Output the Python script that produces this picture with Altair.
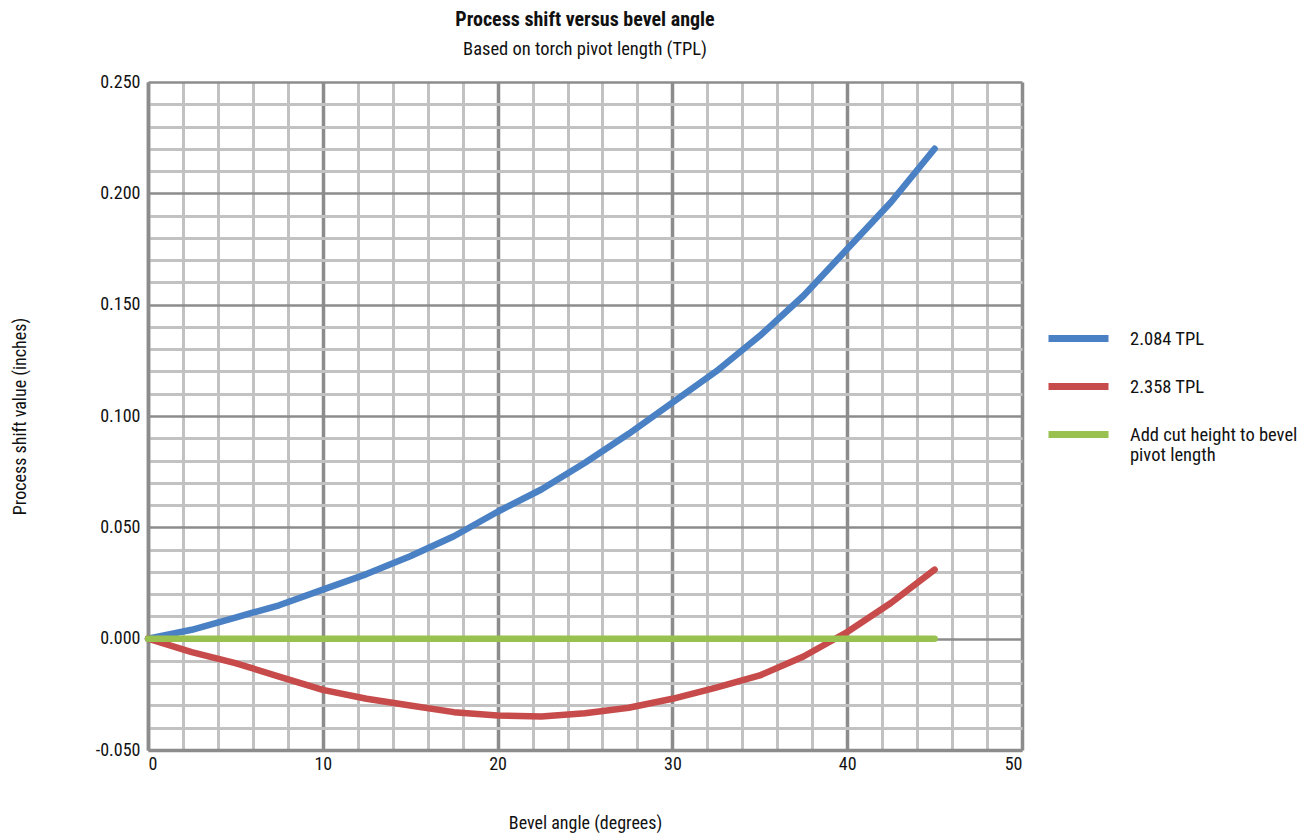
import altair as alt
import pandas as pd

angles = [0, 2.5, 5, 7.5, 10, 12.5, 15, 17.5, 20, 22.5, 25, 27.5, 30, 32.5, 35, 37.5, 40, 42.5, 45]
tpl_2084 = [0, 0.004, 0.0095, 0.015, 0.022, 0.029, 0.037, 0.046, 0.057, 0.067, 0.079, 0.092,
            0.106, 0.120, 0.136, 0.154, 0.175, 0.196, 0.220]
tpl_2358 = [0, -0.006, -0.011, -0.017, -0.023, -0.027, -0.030, -0.033, -0.0345, -0.035, -0.0335,
            -0.031, -0.027, -0.022, -0.0165, -0.008, 0.003, 0.016, 0.031]
cut_height = [0] * len(angles)

series_names = ["2.084 TPL", "2.358 TPL", "Add cut height to bevel pivot length"]
series_colors = ["#4a80c4", "#c84b4b", "#98c14f"]

x_ticks = list(range(0, 51, 2))
y_ticks = [round(-0.05 + 0.01 * i, 2) for i in range(31)]

rows = []
for name, vals in zip(series_names, [tpl_2084, tpl_2358, cut_height]):
    for a, v in zip(angles, vals):
        rows.append({"angle": a, "shift": v, "series": name})
df = pd.DataFrame(rows)

FONT = "Roboto Condensed, Noto Sans Condensed, Liberation Sans Narrow, Arial Narrow, Roboto, sans-serif"

ymajor = "abs(round(datum.value * 100)) % 5 === 0"

chart = alt.Chart(df).mark_line(strokeWidth=6.5, strokeCap="round", strokeJoin="round").encode(
    x=alt.X("angle:Q", scale=alt.Scale(domain=[0, 50], nice=False),
            axis=alt.Axis(values=x_ticks, title="Bevel angle (degrees)",
                          labelExpr="datum.value % 10 === 0 ? datum.label : ''",
                          ticks=False, labelPadding=5, titleY=73, titleBaseline="middle",
                          gridColor={"condition": {"test": "datum.value % 10 === 0", "value": "#8c8c8c"}, "value": "#c2c2c2"},
                          gridWidth={"condition": {"test": "datum.value % 10 === 0", "value": 3.5}, "value": 3},
                          domainColor="#8c8c8c", domainWidth=3.5)),
    y=alt.Y("shift:Q", scale=alt.Scale(domain=[-0.05, 0.25], nice=False, zero=False),
            axis=alt.Axis(values=y_ticks, title="Process shift value (inches)",
                          labelExpr=ymajor + " ? (datum.value < -0.0001 ? '-' + format(abs(datum.value), '.3f') : format(abs(datum.value), '.3f')) : ''",
                          ticks=False, labelPadding=8, titleX=-128, titleY=334, titleBaseline="middle",
                          titleAngle=270, titleAlign="center",
                          gridColor={"condition": {"test": ymajor, "value": "#8c8c8c"}, "value": "#c2c2c2"},
                          gridWidth={"condition": {"test": ymajor, "value": 2.5}, "value": 3},
                          domainColor="#8c8c8c", domainWidth=3.5)),
    color=alt.Color("series:N", scale=alt.Scale(domain=series_names, range=series_colors),
                    legend=alt.Legend(title=None, orient="none", legendX=897, legendY=223,
                                      symbolType="stroke", symbolSize=3600, symbolStrokeWidth=7,
                                      rowPadding=-10, labelOffset=18, labelLimit=300,
                                      labelExpr="datum.label === 'Add cut height to bevel pivot length' ? ['Add cut height to bevel', 'pivot length'] : datum.label")),
    order=alt.Order("angle:Q"),
).properties(
    width=874, height=668,
    autosize=alt.AutoSizeParams(type="none"),
    padding={"left": 140, "top": 74, "right": 279, "bottom": 84},
    title=alt.TitleParams(text="Process shift versus bevel angle", subtitle="Based on torch pivot length (TPL)",
                          anchor="middle", fontSize=20, fontWeight="bold", subtitleFontSize=18.5,
                          font=FONT, subtitleFont=FONT, color="#111", subtitleColor="#111",
                          offset=15, subtitlePadding=10),
).configure_view(stroke=None).configure_axis(
    labelFont=FONT, titleFont=FONT, labelFontSize=18, titleFontSize=18,
    labelColor="#111", titleColor="#111", titleFontWeight="normal",
).configure_legend(labelFont=FONT, labelFontSize=18.5, labelColor="#111")

chart.save("out.html", embed_options={"renderer": "svg", "actions": False})
